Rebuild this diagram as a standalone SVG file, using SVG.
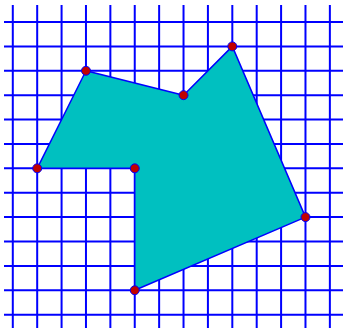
<svg xmlns="http://www.w3.org/2000/svg" width="343" height="328" viewBox="0 0 343 328">
<style>
.grid line{stroke:#0000ff;stroke-width:2}
.shape{fill:#00c0c0;stroke:#0000ff;stroke-width:1.5;stroke-linejoin:round}
.pt{fill:#c00000;stroke:#0000ff;stroke-width:1}
</style>
<rect width="343" height="328" fill="#ffffff"/>
<g id="grid" class="grid">
<line x1="12.8" y1="5" x2="12.8" y2="328"/>
<line x1="37.19" y1="5" x2="37.19" y2="328"/>
<line x1="61.58" y1="5" x2="61.58" y2="328"/>
<line x1="85.97" y1="5" x2="85.97" y2="328"/>
<line x1="110.36" y1="5" x2="110.36" y2="328"/>
<line x1="134.75" y1="5" x2="134.75" y2="328"/>
<line x1="159.14" y1="5" x2="159.14" y2="328"/>
<line x1="183.53" y1="5" x2="183.53" y2="328"/>
<line x1="207.92" y1="5" x2="207.92" y2="328"/>
<line x1="232.31" y1="5" x2="232.31" y2="328"/>
<line x1="256.7" y1="5" x2="256.7" y2="328"/>
<line x1="281.09" y1="5" x2="281.09" y2="328"/>
<line x1="305.48" y1="5" x2="305.48" y2="328"/>
<line x1="329.87" y1="5" x2="329.87" y2="328"/>
<line x1="4" y1="22" x2="343" y2="22"/>
<line x1="4" y1="46.39" x2="343" y2="46.39"/>
<line x1="4" y1="70.78" x2="343" y2="70.78"/>
<line x1="4" y1="95.17" x2="343" y2="95.17"/>
<line x1="4" y1="119.56" x2="343" y2="119.56"/>
<line x1="4" y1="143.95" x2="343" y2="143.95"/>
<line x1="4" y1="168.34" x2="343" y2="168.34"/>
<line x1="4" y1="192.73" x2="343" y2="192.73"/>
<line x1="4" y1="217.12" x2="343" y2="217.12"/>
<line x1="4" y1="241.51" x2="343" y2="241.51"/>
<line x1="4" y1="265.9" x2="343" y2="265.9"/>
<line x1="4" y1="290.29" x2="343" y2="290.29"/>
<line x1="4" y1="314.68" x2="343" y2="314.68"/>
</g>
<g id="connectors">
<polygon class="shape" points="37.19,168.34 85.97,70.78 183.53,95.17 232.31,46.39 305.48,217.12 134.75,290.29 134.75,168.34"/>
</g>
<g id="v1"><circle class="pt" cx="37.19" cy="168.34" r="4.5"/></g>
<g id="v2"><circle class="pt" cx="85.97" cy="70.78" r="4.5"/></g>
<g id="v3"><circle class="pt" cx="183.53" cy="95.17" r="4.5"/></g>
<g id="v4"><circle class="pt" cx="232.31" cy="46.39" r="4.5"/></g>
<g id="v5"><circle class="pt" cx="305.48" cy="217.12" r="4.5"/></g>
<g id="v6"><circle class="pt" cx="134.75" cy="290.29" r="4.5"/></g>
<g id="v7"><circle class="pt" cx="134.75" cy="168.34" r="4.5"/></g>
</svg>
